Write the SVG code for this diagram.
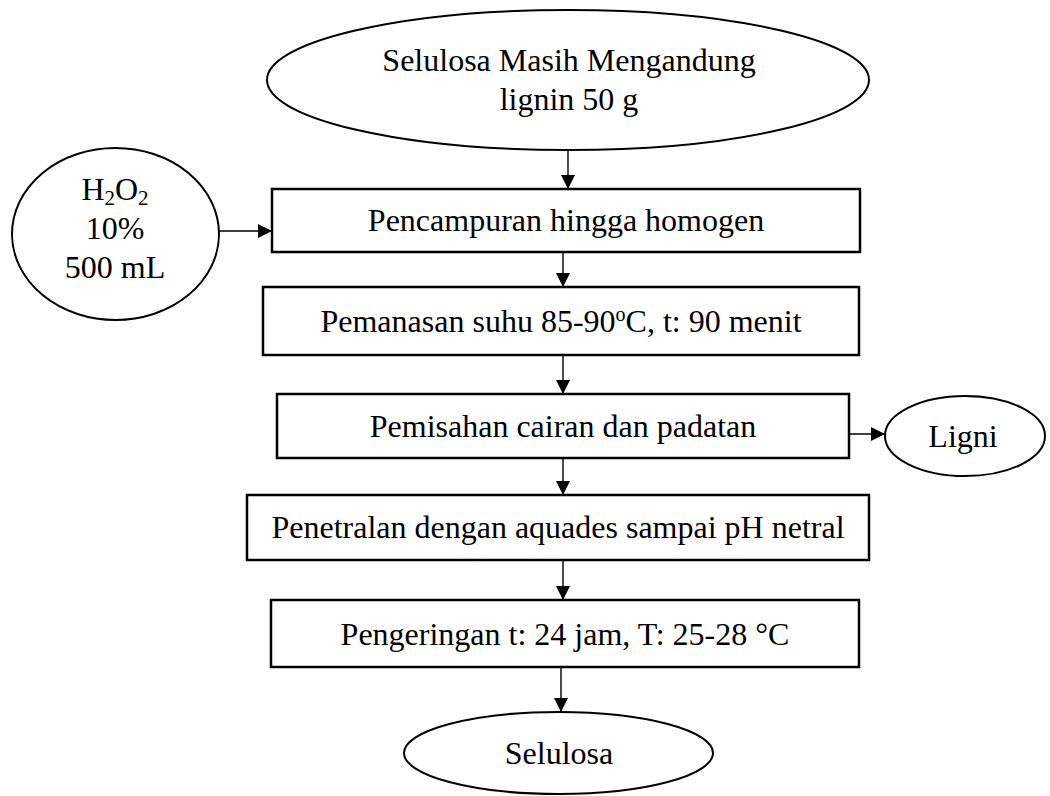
<svg xmlns="http://www.w3.org/2000/svg" width="1050" height="796" viewBox="0 0 1050 796">
  <style>
    .box { fill: #ffffff; stroke: #000000; stroke-width: 2.5; }
    .oval { fill: #ffffff; stroke: #000000; stroke-width: 2; }
    .label { font-family: "Liberation Serif", "Times New Roman", serif; font-size: 32px; fill: #000000; text-anchor: middle; }
    .sub { font-size: 21px; }
    .link { stroke: #000000; stroke-width: 1.4; fill: none; marker-end: url(#head); }
  </style>
  <defs>
    <marker id="head" markerUnits="userSpaceOnUse" markerWidth="14" markerHeight="14" refX="14" refY="7" orient="auto">
      <path d="M0,0 L14,7 L0,14 Z" fill="#000000"/>
    </marker>
  </defs>
  <rect width="1050" height="796" fill="#ffffff"/>

  <!-- flow connectors -->
  <g id="connectors">
    <line class="link" x1="568" y1="150" x2="568" y2="189"/>
    <line class="link" x1="219" y1="231" x2="272" y2="231"/>
    <line class="link" x1="563" y1="253" x2="563" y2="287"/>
    <line class="link" x1="563" y1="355" x2="563" y2="394"/>
    <line class="link" x1="849" y1="434" x2="885" y2="434"/>
    <line class="link" x1="563" y1="458" x2="563" y2="495"/>
    <line class="link" x1="563" y1="560" x2="563" y2="600"/>
    <line class="link" x1="561" y1="667" x2="561" y2="712"/>
  </g>

  <g id="start">
    <ellipse class="oval" cx="568" cy="80" rx="301" ry="70"/>
    <text class="label" x="569" y="71">Selulosa Masih Mengandung</text>
    <text class="label" x="569" y="110">lignin 50 g</text>
  </g>

  <g id="reagent">
    <ellipse class="oval" cx="115.5" cy="234" rx="103.5" ry="86"/>
    <text class="label" x="115" y="200">H<tspan class="sub" dy="5">2</tspan><tspan dy="-5">O</tspan><tspan class="sub" dy="5">2</tspan></text>
    <text class="label" x="115" y="239">10%</text>
    <text class="label" x="115" y="278">500 mL</text>
  </g>

  <g id="mixing">
    <rect class="box" x="272" y="189" width="588" height="63"/>
    <text class="label" x="566" y="231">Pencampuran hingga homogen</text>
  </g>

  <g id="heating">
    <rect class="box" x="263" y="287" width="596" height="68"/>
    <text class="label" x="561" y="332">Pemanasan suhu 85-90<tspan font-size="20px" dy="-11">o</tspan><tspan dy="11">C, t: 90 menit</tspan></text>
  </g>

  <g id="separation">
    <rect class="box" x="277" y="394" width="572" height="64"/>
    <text class="label" x="563" y="437">Pemisahan cairan dan padatan</text>
  </g>

  <g id="lignin">
    <ellipse class="oval" cx="965" cy="436" rx="80" ry="40"/>
    <text class="label" x="963" y="447">Ligni</text>
  </g>

  <g id="neutralising">
    <rect class="box" x="247" y="495" width="622" height="65"/>
    <text class="label" x="558" y="538">Penetralan dengan aquades sampai pH netral</text>
  </g>

  <g id="drying">
    <rect class="box" x="271" y="600" width="588" height="67"/>
    <text class="label" x="565" y="645">Pengeringan t: 24 jam, T: 25-28 °C</text>
  </g>

  <g id="product">
    <ellipse class="oval" cx="558.5" cy="753" rx="154.5" ry="41"/>
    <text class="label" x="559" y="764">Selulosa</text>
  </g>
</svg>
